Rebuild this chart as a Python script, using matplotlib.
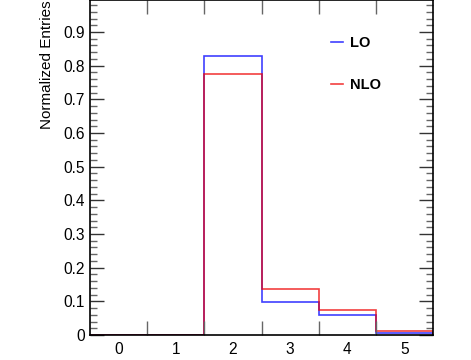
import numpy as np
import matplotlib.pyplot as plt
from matplotlib.ticker import MultipleLocator, FixedLocator

plt.rcParams['font.family'] = ['Liberation Sans', 'DejaVu Sans']

edges = [-0.5, 0.5, 1.5, 2.5, 3.5, 4.5, 5.5]
lo = [0.0, 0.0, 0.829, 0.099, 0.060, 0.005]
nlo = [0.0, 0.0, 0.774, 0.137, 0.073, 0.012]
labels = ['0', '1', '2', '3', '4', '5']

fig = plt.figure(figsize=(4.71, 3.6), dpi=100)
ax = fig.add_axes([90/471, 25/360, 343/471, 335/360])

ax.stairs(lo, edges, color='#0000ff', alpha=0.75, lw=1.2, label='LO')
ax.stairs(nlo, edges, color='#ee0000', alpha=0.75, lw=1.2, label='NLO')

ax.set_xlim(-0.5, 5.5)
ax.set_ylim(0, 0.995)

ax.xaxis.set_major_locator(FixedLocator([0, 1, 2, 3, 4, 5]))
ax.set_xticklabels(labels)
ax.xaxis.set_minor_locator(FixedLocator([0.5, 1.5, 2.5, 3.5, 4.5]))
ax.tick_params(axis='x', which='major', length=0, labelsize=11.2, pad=5)
ax.tick_params(axis='x', which='minor', direction='in', length=10, top=True, bottom=True, width=1, color='#666666')

ax.yaxis.set_minor_locator(MultipleLocator(0.02))
ax.set_yticks(np.arange(0, 1.0, 0.1))
ax.set_yticklabels(['0'] + ['%.1f' % v for v in np.arange(0.1, 0.95, 0.1)])
ax.tick_params(axis='y', which='major', direction='in', length=10, left=True, right=True, labelsize=11.2, width=1, color='#333333')
ax.tick_params(axis='y', which='minor', direction='in', length=5, left=True, right=True, width=1, color='#666666')

for s in ax.spines.values():
    s.set_linewidth(1.2)

ax.set_ylabel('Normalized Entries', fontsize=11, loc='top', labelpad=7)

ax.legend(loc='upper left', bbox_to_anchor=(0.664, 0.932), frameon=False,
          prop={'weight': 'bold', 'size': 10.5}, handlelength=0.8,
          labelspacing=1.9, handletextpad=0.5)

fig.savefig('out.png', dpi=100)
